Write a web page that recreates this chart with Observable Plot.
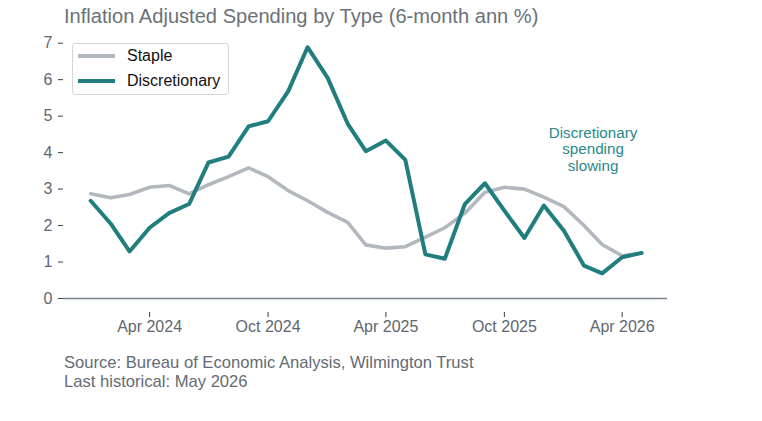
<!DOCTYPE html>
<html>
<head>
<meta charset="utf-8">
<script src="https://cdn.jsdelivr.net/npm/d3@7"></script>
<script src="https://cdn.jsdelivr.net/npm/@observablehq/plot@0.6"></script>
<style>
  body { margin: 0; background: #fff; font-family: "Liberation Sans", Arial, sans-serif; }
  #wrap { position: relative; width: 762px; }
  #title { height: 31px; line-height: 30px; padding-top: 1px; box-sizing: border-box; padding-left: 64px; font-size: 20.1px; color: #6b7178; white-space: nowrap; }
  #caption { padding-left: 64px; font-size: 16.6px; line-height: 19px; color: #646b74; }
  #legend { position: absolute; left: 72px; top: 43px; width: 155px; height: 50px; border: 1px solid #d4d4d4; border-radius: 3px; background: #fff; }
  .item { position: absolute; left: 0; height: 20px; width: 155px; }
  .swatch { position: absolute; left: 5px; top: 8px; width: 37px; height: 4px; }
  .lab { position: absolute; left: 54px; top: 0; font-size: 16px; line-height: 20px; color: #111; }
  svg { display: block; }
</style>
</head>
<body>
<div id="wrap">
  <div id="title">Inflation Adjusted Spending by Type (6-month ann %)</div>
  <div id="chart"></div>
  <div id="legend"></div>
  <div id="caption"></div>
</div>
<script>
const months = ["2024-01","2024-02","2024-03","2024-04","2024-05","2024-06","2024-07","2024-08","2024-09","2024-10","2024-11","2024-12",
  "2025-01","2025-02","2025-03","2025-04","2025-05","2025-06","2025-07","2025-08","2025-09","2025-10","2025-11","2025-12",
  "2026-01","2026-02","2026-03","2026-04","2026-05"];
const staple = [2.87,2.76,2.85,3.05,3.10,2.87,3.12,3.34,3.58,3.34,2.96,2.68,2.36,2.09,1.47,1.38,1.42,1.68,1.94,2.34,2.91,3.05,3.00,2.78,2.52,2.00,1.48,1.17,1.24];
const discretionary = [2.68,2.05,1.29,1.94,2.34,2.59,3.73,3.89,4.72,4.86,5.68,6.89,6.05,4.79,4.04,4.33,3.80,1.21,1.09,2.59,3.16,2.41,1.66,2.55,1.86,0.90,0.69,1.13,1.25];
const seriesNames = ["Staple", "Discretionary"];
const seriesColors = ["#b2b8be", "#217e7f"];
const xTickLabels = ["2024-04","2024-10","2025-04","2025-10","2026-04"];
const yTickLabels = [0,1,2,3,4,5,6,7];
const annotation = [{date: "2026-02-15", value: 4.1, label: "Discretionary\nspending\nslowing"}];
const titleText = "Inflation Adjusted Spending by Type (6-month ann %)";
const captionLines = ["Source: Bureau of Economic Analysis, Wilmington Trust", "Last historical: May 2026"];

const parse = s => new Date(s + (s.length === 7 ? "-01" : "") + "T00:00:00Z");
const rows = [];
months.forEach((m, i) => {
  rows.push({date: parse(m), value: staple[i], series: seriesNames[0]});
});
months.forEach((m, i) => {
  rows.push({date: parse(m), value: discretionary[i], series: seriesNames[1]});
});
const ann = annotation.map(a => ({...a, date: parse(a.date)}));

const labelColor = "#5f6670";
const tickColor = "#3a3f45";
const axisColor = "#7a828c";

const chart = Plot.plot({
  width: 762,
  height: 322,
  marginLeft: 63,
  marginRight: 95,
  marginTop: 11.7,
  marginBottom: 41,
  style: {fontFamily: '"Liberation Sans", Arial, sans-serif', fontSize: "16px", background: "#fff", overflow: "visible"},
  x: {type: "utc", domain: [parse("2023-11-20"), parse("2026-06-10")]},
  y: {domain: [0, 7], insetBottom: 14},
  marks: [
    Plot.ruleY([0], {stroke: axisColor, strokeWidth: 1.5}),
    Plot.axisY({ticks: yTickLabels, tickSize: 5, tickPadding: 6, tickFormat: d => String(d), stroke: tickColor, fill: labelColor, fontSize: 16, label: null}),
    Plot.axisX({ticks: xTickLabels.map(parse), tickSize: 5, tickPadding: 3, tickFormat: d3.utcFormat("%b %Y"), stroke: tickColor, fill: labelColor, fontSize: 16, label: null}),
    Plot.lineY(rows.filter(d => d.series === seriesNames[0]), {x: "date", y: "value", stroke: seriesColors[0], strokeWidth: 3.6}),
    Plot.lineY(rows.filter(d => d.series === seriesNames[1]), {x: "date", y: "value", stroke: seriesColors[1], strokeWidth: 4}),
    Plot.text(ann, {x: "date", y: "value", text: "label", fill: "#2a8889", fontSize: 15.2, lineHeight: 1.1, textAnchor: "middle"})
  ]
});
document.getElementById("chart").appendChild(chart);

document.getElementById("title").textContent = titleText;
document.getElementById("caption").innerHTML = captionLines.map(l => `<div>${l}</div>`).join("");

const legend = document.getElementById("legend");
seriesNames.forEach((name, i) => {
  const item = document.createElement("div");
  item.className = "item";
  item.style.top = (2 + i * 24.5) + "px";
  item.innerHTML = `<div class="swatch" style="background:${seriesColors[i]}"></div><div class="lab">${name}</div>`;
  legend.appendChild(item);
});
</script>
</body>
</html>
